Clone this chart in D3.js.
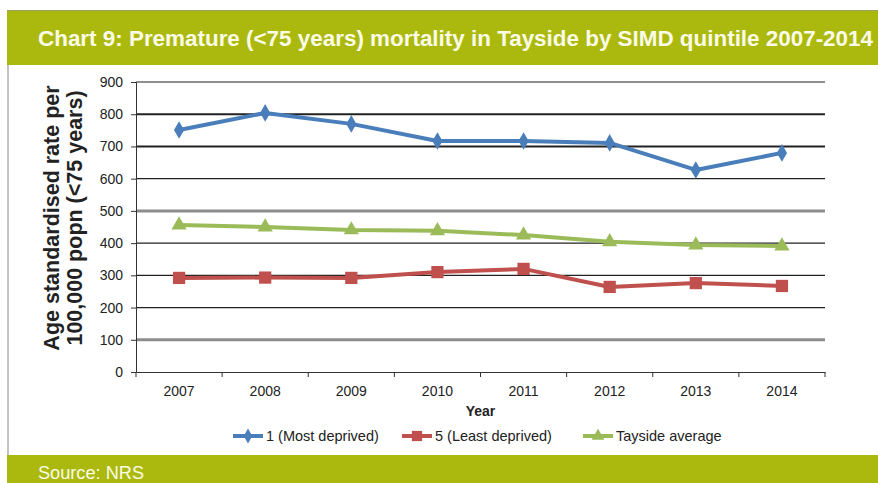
<!DOCTYPE html>
<html><head><meta charset="utf-8">
<script src="https://cdn.jsdelivr.net/npm/d3@7"></script>
<style>body{margin:0;background:#fff}svg{display:block}</style>
</head><body>
<svg id="c" width="878" height="483"></svg>
<script>
const years = ["2007","2008","2009","2010","2011","2012","2013","2014"];
const mostDeprived = [751, 804, 770, 717, 717, 711, 627, 680];
const leastDeprived = [292, 293, 292, 310, 320, 264, 276, 267];
const taysideAverage = [456, 450, 441, 438, 425, 404, 394, 391];
const yTicks = [0,100,200,300,400,500,600,700,800,900];
const seriesNames = ["1 (Most deprived)", "5 (Least deprived)", "Tayside average"];
const titleText = "Chart 9: Premature (<75 years) mortality in Tayside by SIMD quintile 2007-2014";
const sourceText = "Source: NRS";

const svg = d3.select("#c");
const W = 878, H = 483;
const green = "#abb90f";
const font = "'Liberation Sans', Arial, sans-serif";

// header band
svg.append("rect").attr("x",7).attr("y",10).attr("width",W-7).attr("height",55).attr("fill",green);
svg.append("line").attr("x1",7).attr("x2",W).attr("y1",10.5).attr("y2",10.5).attr("stroke","#9aa060").attr("stroke-width",1);
svg.append("text").attr("x",38).attr("y",46).attr("fill","#fbfbe6")
  .attr("font-family",font).attr("font-weight","bold").attr("font-size",22)
  .attr("textLength",835).attr("lengthAdjust","spacingAndGlyphs").text(titleText);
// footer
svg.append("rect").attr("x",7).attr("y",455).attr("width",W-7).attr("height",28).attr("fill",green);
svg.append("text").attr("x",38).attr("y",479).attr("fill","#fbfbe6")
  .attr("font-family",font).attr("font-size",18)
  .attr("textLength",106).attr("lengthAdjust","spacingAndGlyphs").text(sourceText);
// left border
svg.append("line").attr("x1",8).attr("x2",8).attr("y1",65).attr("y2",455).attr("stroke","#888").attr("stroke-width",1);

const m = {l:136, r:825, t:82, b:372};
const x = d3.scaleBand().domain(years).range([m.l, m.r]);
const y = d3.scaleLinear().domain([0,900]).range([m.b, m.t]);

// gridlines
const gridStyle = v => (v===500||v===100) ? {c:"#8c8c8c", w:3} : (v===800||v===700) ? {c:"#222", w:2} : {c:"#222", w:1.2};
svg.append("g").selectAll("line").data(yTicks.filter(v=>v>0)).join("line")
  .attr("x1",m.l).attr("x2",m.r)
  .attr("y1",d=>y(d)).attr("y2",d=>y(d))
  .attr("stroke",d=>gridStyle(d).c).attr("stroke-width",d=>gridStyle(d).w);

// y axis
const ya = svg.append("g").attr("transform",`translate(${m.l},0)`)
  .call(d3.axisLeft(y).tickValues(yTicks).tickSize(5).tickPadding(8));
ya.select(".domain").attr("stroke","#333");
ya.selectAll(".tick line").attr("stroke","#333");
ya.selectAll("text").attr("font-family",font).attr("font-size",14).attr("fill","#222");

// x axis
const xa = svg.append("g").attr("transform",`translate(0,${m.b})`)
  .call(d3.axisBottom(x).tickSize(0).tickPadding(14));
xa.select(".domain").attr("stroke","#333");
xa.selectAll("text").attr("font-family",font).attr("font-size",14).attr("fill","#222");
const bounds = years.map(d=>x(d)).concat([x(years[years.length-1])+x.bandwidth()]);
svg.append("g").selectAll("line").data(bounds).join("line")
  .attr("x1",d=>d).attr("x2",d=>d).attr("y1",m.b).attr("y2",m.b+5).attr("stroke","#333");

// axis titles
svg.append("text").attr("x",(m.l+m.r)/2).attr("y",416).attr("text-anchor","middle")
  .attr("font-family",font).attr("font-weight","bold").attr("font-size",14).attr("fill","#222").text("Year");
const yt = svg.append("text").attr("transform","translate(59,218) rotate(-90)").attr("text-anchor","middle")
  .attr("font-family",font).attr("font-weight","bold").attr("font-size",21.5).attr("fill","#222");
yt.append("tspan").attr("x",0).attr("dy",0).text("Age standardised rate per");
yt.append("tspan").attr("x",0).attr("dy",23).text("100,000 popn (<75 years)");

const cx = d => x(d)+x.bandwidth()/2;
const series = [
  {name:seriesNames[0], values:mostDeprived, color:"#4a7ebb", shape:d3.symbolDiamond, size:90},
  {name:seriesNames[1], values:leastDeprived, color:"#c0504d", shape:d3.symbolSquare, size:150},
  {name:seriesNames[2], values:taysideAverage, color:"#9bbb59", shape:d3.symbolTriangle, size:100}
];
const line = d3.line().x((d,i)=>cx(years[i])).y(d=>y(d));
series.forEach(s=>{
  svg.append("path").datum(s.values).attr("d",line).attr("fill","none")
    .attr("stroke",s.color).attr("stroke-width",4).attr("stroke-linejoin","round");
  svg.append("g").selectAll("path").data(s.values).join("path")
    .attr("transform",(d,i)=>`translate(${cx(years[i])},${y(d)})`)
    .attr("d",d3.symbol().type(s.shape).size(s.size)).attr("fill",s.color);
});

// legend
const legX = [233, 402, 583];
series.forEach((s,i)=>{
  const g = svg.append("g").attr("transform",`translate(${legX[i]},436)`);
  g.append("line").attr("x1",0).attr("x2",30).attr("stroke",s.color).attr("stroke-width",4);
  g.append("path").attr("transform","translate(15,0)").attr("d",d3.symbol().type(s.shape).size(s.size*0.7)).attr("fill",s.color);
  g.append("text").attr("x",33).attr("y",5).attr("font-family",font).attr("font-size",14.5).attr("fill","#222").text(s.name);
});
</script>
</body></html>
